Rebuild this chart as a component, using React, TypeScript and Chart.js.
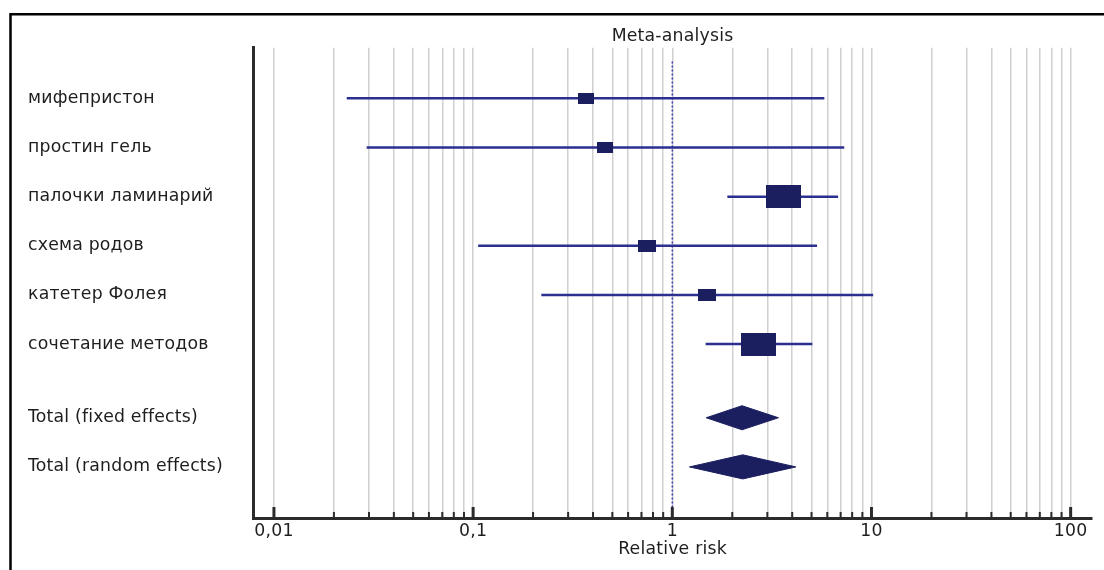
import React, { useEffect, useRef } from "react";
import { Chart, registerables } from "chart.js";

Chart.register(...registerables);

// ---- data ----
const STUDY_LABELS = [
  "мифепристон",
  "простин гель",
  "палочки ламинарий",
  "схема родов",
  "катетер Фолея",
  "сочетание методов",
];
const STUDY_RR = [0.37, 0.46, 3.6, 0.75, 1.5, 2.72];
const STUDY_LOW = [0.0232, 0.0292, 1.89, 0.106, 0.22, 1.47];
const STUDY_HIGH = [5.8, 7.3, 6.8, 5.33, 10.2, 5.05];
const STUDY_WEIGHT = [7.4, 7.4, 33.8, 8.8, 8.8, 33.8];

const TOTAL_LABELS = ["Total (fixed effects)", "Total (random effects)"];
const TOTAL_RR = [2.24, 2.26];
const TOTAL_LOW = [1.48, 1.22];
const TOTAL_HIGH = [3.41, 4.17];

const ROW_POS = [1, 2, 3, 4, 5, 6, 7.5, 8.5];
const MAJOR_TICKS = [0.01, 0.1, 1, 10, 100];
const TICK_LABELS = ["0,01", "0,1", "1", "10", "100"];

// ---- styles ----
const LINE_COLOR = "#2b2f8f";
const BOX_COLOR = "#1b1f5f";
const TEXT_COLOR = "#1e1e1e";
const FONT_FAMILY = "'DejaVu Sans', sans-serif";
const FONT_SIZE = 17.3;
const DIAMOND_HALF = 0.245;

const ALL_LABELS = [...STUDY_LABELS, ...TOTAL_LABELS];

function buildGridTicks(): number[] {
  const out: number[] = [];
  for (let d = -2; d <= 1; d++) {
    for (let m = 1; m <= 9; m++) {
      out.push(Number((m * Math.pow(10, d)).toPrecision(6)));
    }
  }
  out.push(100);
  return out;
}

function makeBox(weight: number): HTMLCanvasElement {
  const w = Math.round(6.02 * Math.sqrt(weight));
  const h = Math.round(w * 0.66);
  const c = document.createElement("canvas");
  c.width = w;
  c.height = h;
  const g = c.getContext("2d")!;
  g.fillStyle = BOX_COLOR;
  g.fillRect(0, 0, w, h);
  return c;
}

const framePlugin = {
  id: "frameAndTicks",
  beforeDraw(chart: any) {
    const ctx = chart.ctx;
    try {
      ctx.letterSpacing = "0.2px";
    } catch (e) {}
    ctx.save();
    ctx.fillStyle = "#ffffff";
    ctx.fillRect(0, 0, chart.width, chart.height);
    ctx.restore();
  },
  afterDraw(chart: any) {
    const ctx = chart.ctx;
    const xs = chart.scales.x;
    const bottom = chart.chartArea.bottom;
    ctx.save();
    ctx.strokeStyle = "#2b2b2b";
    xs.ticks.forEach((t: any) => {
      const px = xs.getPixelForValue(t.value);
      const major = MAJOR_TICKS.includes(t.value);
      ctx.lineWidth = major ? 3 : 2;
      ctx.beginPath();
      ctx.moveTo(px, bottom);
      ctx.lineTo(px, bottom - (major ? 11 : 6));
      ctx.stroke();
    });
    // outer frame
    ctx.strokeStyle = "#000000";
    ctx.lineWidth = 2.5;
    ctx.beginPath();
    ctx.moveTo(10.5, chart.height);
    ctx.lineTo(10.5, 14.3);
    ctx.lineTo(chart.width, 14.3);
    ctx.stroke();
    ctx.restore();
  },
};

export default function App() {
  const ref = useRef<HTMLCanvasElement | null>(null);

  useEffect(() => {
    if (!ref.current) return;
    const gridTicks = buildGridTicks();
    const boxes = STUDY_WEIGHT.map((w) => makeBox(w));

    const datasets: any[] = [];

    // reference line at RR = 1
    datasets.push({
      type: "line",
      data: [
        { x: 1, y: 0.25 },
        { x: 1, y: 9.6 },
      ],
      borderColor: "#3b3bb0",
      borderWidth: 1.5,
      borderDash: [2, 2],
      pointRadius: 0,
      showLine: true,
      fill: false,
      order: 10,
    });

    // confidence intervals
    STUDY_LABELS.forEach((_, i) => {
      datasets.push({
        type: "line",
        data: [
          { x: STUDY_LOW[i], y: ROW_POS[i] },
          { x: STUDY_HIGH[i], y: ROW_POS[i] },
        ],
        borderColor: LINE_COLOR,
        borderWidth: 2.5,
        pointRadius: 0,
        showLine: true,
        fill: false,
        order: 5,
      });
    });

    // point estimate boxes
    datasets.push({
      type: "scatter",
      data: STUDY_RR.map((v, i) => ({ x: v, y: ROW_POS[i] })),
      pointStyle: (c: any) => boxes[c.dataIndex],
      pointRadius: 10,
      showLine: false,
      order: 1,
    });

    // pooled diamonds
    TOTAL_LABELS.forEach((_, j) => {
      const y = ROW_POS[STUDY_LABELS.length + j];
      datasets.push({
        type: "line",
        data: [
          { x: TOTAL_LOW[j], y },
          { x: TOTAL_RR[j], y: y - DIAMOND_HALF },
          { x: TOTAL_HIGH[j], y },
          { x: TOTAL_RR[j], y: y + DIAMOND_HALF },
          { x: TOTAL_LOW[j], y },
        ],
        borderColor: BOX_COLOR,
        backgroundColor: BOX_COLOR,
        borderWidth: 1,
        pointRadius: 0,
        showLine: true,
        tension: 0,
        fill: "shape",
        order: 1,
      });
    });

    const chart = new Chart(ref.current, {
      type: "scatter",
      data: { datasets },
      plugins: [framePlugin],
      options: {
        responsive: false,
        animation: false,
        events: [],
        layout: { padding: { left: 28, right: 12, top: 0, bottom: 0 } },
        plugins: {
          legend: { display: false },
          tooltip: { enabled: false },
          title: {
            display: true,
            text: "Meta-analysis",
            fullSize: false,
            color: TEXT_COLOR,
            font: { family: FONT_FAMILY, size: FONT_SIZE, weight: "normal", lineHeight: 1.2 },
            padding: { top: 26, bottom: 1 },
          },
        },
        scales: {
          x: {
            type: "logarithmic",
            position: "bottom",
            min: 0.00785,
            max: 128,
            afterBuildTicks: (scale: any) => {
              scale.ticks = gridTicks.map((v) => ({ value: v, major: MAJOR_TICKS.includes(v) }));
            },
            afterFit: (scale: any) => {
              scale.height = 52;
            },
            ticks: {
              autoSkip: false,
              maxRotation: 0,
              minRotation: 0,
              padding: 3,
              color: TEXT_COLOR,
              font: { family: FONT_FAMILY, size: FONT_SIZE },
              callback: (value: any) => {
                const k = MAJOR_TICKS.indexOf(Number(value));
                return k >= 0 ? TICK_LABELS[k] : "";
              },
            },
            grid: {
              display: true,
              drawTicks: false,
              color: "#d0d0d0",
              lineWidth: 1.5,
            },
            border: { display: true, color: "#2b2b2b", width: 3 },
            title: {
              display: true,
              text: "Relative risk",
              color: TEXT_COLOR,
              font: { family: FONT_FAMILY, size: FONT_SIZE, lineHeight: 1.2 },
              padding: { top: 0, bottom: 10 },
            },
          },
          y: {
            type: "linear",
            reverse: true,
            min: -0.03,
            max: 9.54,
            afterBuildTicks: (scale: any) => {
              scale.ticks = ROW_POS.map((v) => ({ value: v }));
            },
            afterFit: (scale: any) => {
              scale.width = 225;
            },
            ticks: {
              autoSkip: false,
              crossAlign: "far",
              color: TEXT_COLOR,
              font: { family: FONT_FAMILY, size: FONT_SIZE },
              callback: (_v: any, idx: number) => ALL_LABELS[idx],
            },
            grid: { display: false, drawTicks: false },
            border: { display: true, color: "#2b2b2b", width: 3 },
          },
        },
      } as any,
    });

    return () => chart.destroy();
  }, []);

  return (
    <div style={{ position: "absolute", left: 0, top: 0, width: 1104, height: 570, background: "#fff" }}>
      <canvas ref={ref} width={1104} height={570} style={{ display: "block", width: 1104, height: 570 }} />
    </div>
  );
}
